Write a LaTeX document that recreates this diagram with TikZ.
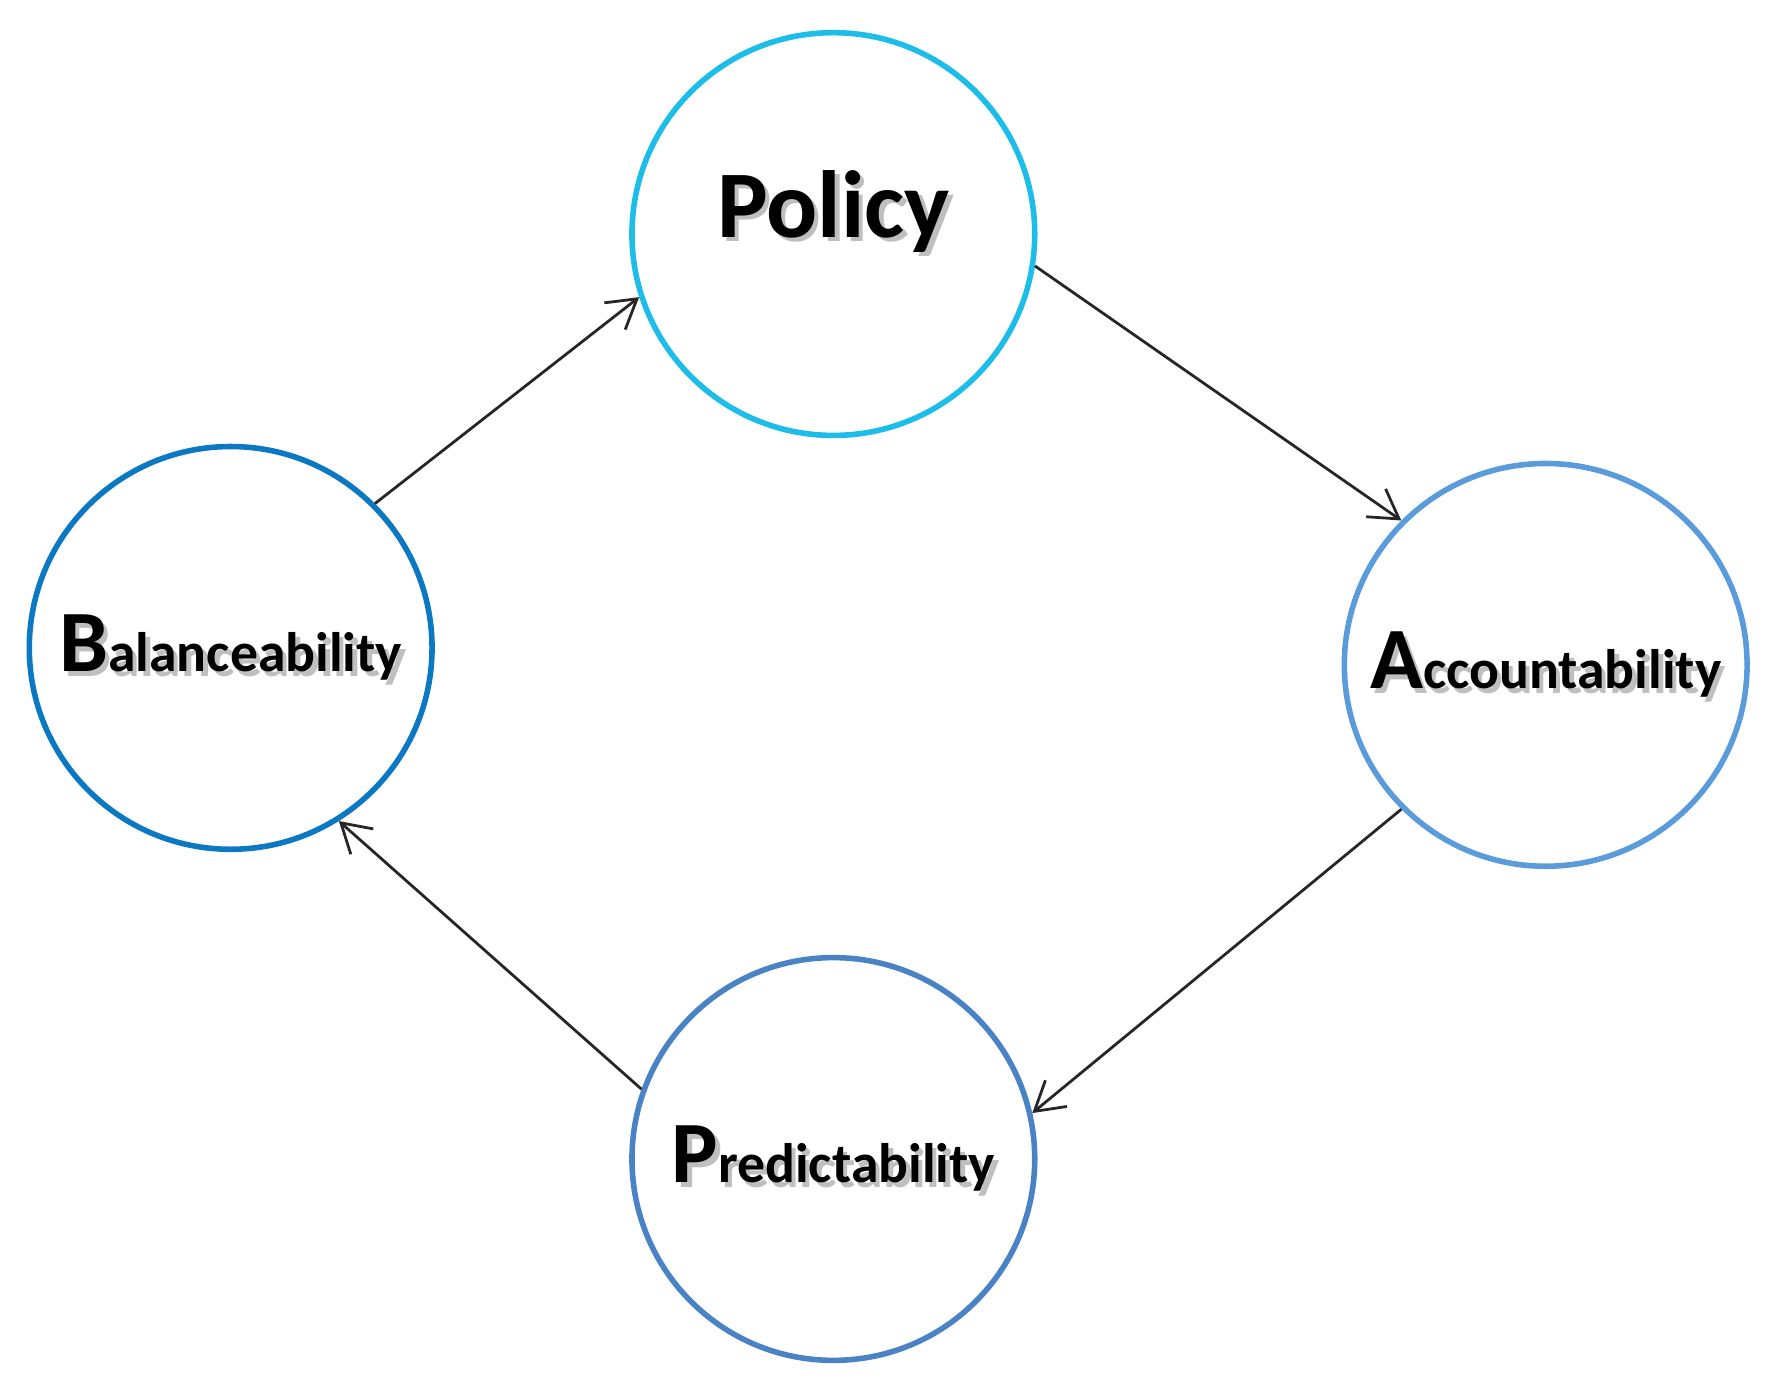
\documentclass[tikz,border=0pt]{standalone}
\usepackage{fontspec}
\setmainfont{Carlito}
\usetikzlibrary{arrows.meta}
\definecolor{cPol}{HTML}{1DBDEA}
\definecolor{cBal}{HTML}{0A78C2}
\definecolor{cAcc}{HTML}{5A9BDB}
\definecolor{cPre}{HTML}{4A82C6}
\tikzset{
 circ/.style={circle,draw,line width=1.4pt,minimum size=3.56cm,inner sep=0pt},
 arr/.style={draw=black!85,line width=0.7pt,-{Straight Barb[length=2.5mm,width=3mm]}},
 lbl/.style={font=\bfseries,inner sep=0pt}
}
\begin{document}
\begin{tikzpicture}[x=0.01cm,y=-0.01cm]
\useasboundingbox (0,0) rectangle (1568,1225);
\node[circ,draw=cPol] (p) at (737,207) {};
\node[circ,draw=cBal] (b) at (204,573) {};
\node[circ,draw=cAcc] (a) at (1367,588) {};
\node[circ,draw=cPre] (r) at (737,1025) {};
\foreach \dx/\dy/\c in {4/4/black!25,0/0/black}{
 \node[lbl,text=\c] (pt\dx) at ([shift={(\dx,\dy)}]p.center) [yshift=0.2cm] {\fontsize{24}{26}\selectfont Policy};
 \node[lbl,text=\c] (bt\dx) at ([shift={(\dx,\dy)}]b.center) {\fontsize{22}{24}\selectfont B\fontsize{14}{16}\selectfont alanceability};
 \node[lbl,text=\c] (at\dx) at ([shift={(\dx,\dy)}]a.center) {\fontsize{22}{24}\selectfont A\fontsize{14}{16}\selectfont ccountability};
 \node[lbl,text=\c] (rt\dx) at ([shift={(\dx,\dy)}]r.center) {\fontsize{22}{24}\selectfont P\fontsize{14}{16}\selectfont redictability};
}
\draw[arr] (b.45) -- (p.198);
\draw[arr] (p.-9) -- (a.135);
\draw[arr] (a.225) -- (r.13);
\draw[arr] (r.160) -- (b.-58);
\end{tikzpicture}
\end{document}
